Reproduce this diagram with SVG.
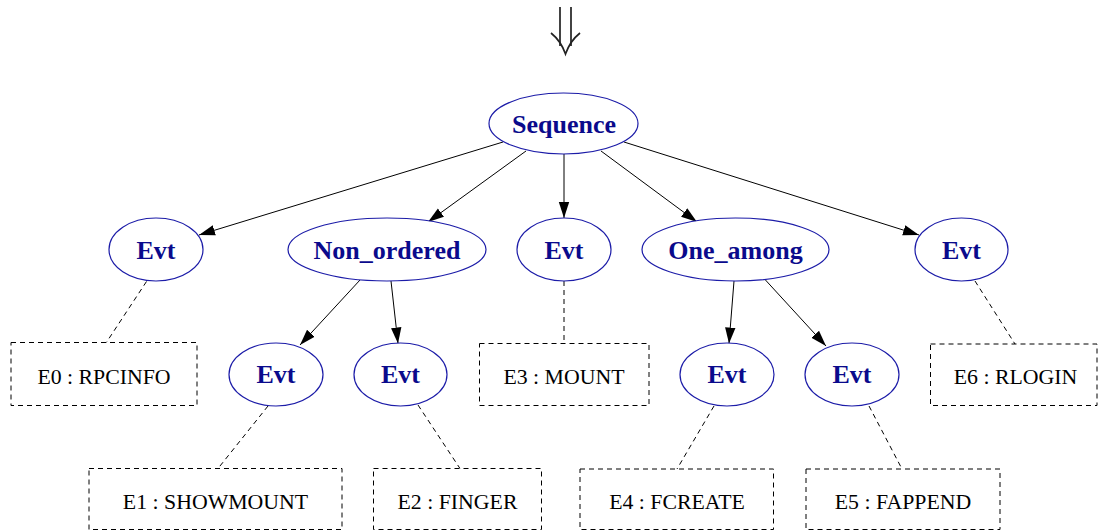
<svg xmlns="http://www.w3.org/2000/svg" width="1099" height="531" viewBox="0 0 1099 531">
<style>
.n ellipse{fill:#fff;stroke:#1c1ca8;stroke-width:1.2}
.n text{font-family:"Liberation Serif",serif;font-weight:bold;font-size:26px;fill:#0a0a8c;text-anchor:middle}
.b rect{fill:#fff;stroke:#000;stroke-width:1;stroke-dasharray:5,4}
.b text{font-family:"Liberation Serif",serif;font-size:21.8px;fill:#000;text-anchor:middle}
.e line{stroke:#000;stroke-width:1}
.e line.a{marker-end:url(#ah)}
.e line.d{stroke-dasharray:5,4}
</style>
<defs>
<marker id="ah" markerUnits="userSpaceOnUse" markerWidth="18" markerHeight="12" refX="16" refY="6" orient="auto">
<path d="M0,0.8 L16,6 L0,11.2 Z" fill="#000"/>
</marker>
</defs>
<g id="top-arrow" fill="none" stroke="#222" stroke-width="1.7">
<line x1="560" y1="7" x2="560" y2="46"/>
<line x1="571" y1="7" x2="571" y2="46"/>
<path d="M551,33 Q561,41 565.5,54 Q570,41 580,33"/>
</g>
<g id="connectors" class="e">
<line class="a" x1="503" y1="142" x2="199" y2="235"/>
<line class="a" x1="526" y1="151" x2="428" y2="222"/>
<line class="a" x1="564" y1="154" x2="564" y2="218"/>
<line class="a" x1="601" y1="151" x2="697" y2="222"/>
<line class="a" x1="624" y1="142" x2="919" y2="235"/>
<line class="a" x1="360" y1="280" x2="300" y2="345"/>
<line class="a" x1="391" y1="281" x2="398" y2="343.5"/>
<line class="a" x1="734" y1="281" x2="729" y2="343.5"/>
<line class="a" x1="765" y1="279.5" x2="826" y2="346"/>
<line class="d" x1="146.5" y1="281.5" x2="106" y2="343"/>
<line class="d" x1="564" y1="281" x2="564" y2="343"/>
<line class="d" x1="975" y1="281" x2="1015" y2="344"/>
<line class="d" x1="268" y1="406" x2="218" y2="468.5"/>
<line class="d" x1="418" y1="405" x2="460" y2="468.5"/>
<line class="d" x1="714" y1="406" x2="677" y2="469"/>
<line class="d" x1="869" y1="406" x2="902" y2="469"/>
</g>
<g id="seq" class="n"><ellipse cx="563.5" cy="123.5" rx="74.5" ry="30.5"/><text x="564" y="132.7">Sequence</text></g>
<g id="evt0" class="n"><ellipse cx="156" cy="249.5" rx="47" ry="31.5"/><text x="156" y="258.5">Evt</text></g>
<g id="nonord" class="n"><ellipse cx="387" cy="249.5" rx="99" ry="31.5"/><text x="387" y="258.5">Non_ordered</text></g>
<g id="evt3" class="n"><ellipse cx="564" cy="249.5" rx="47" ry="31.5"/><text x="564" y="258.5">Evt</text></g>
<g id="oneamong" class="n"><ellipse cx="735.5" cy="249.5" rx="93.5" ry="31.5"/><text x="735.5" y="258.5">One_among</text></g>
<g id="evt6" class="n"><ellipse cx="961.5" cy="249.5" rx="46.5" ry="31.5"/><text x="961.5" y="258.5">Evt</text></g>
<g id="evt1" class="n"><ellipse cx="276" cy="374.5" rx="47" ry="31.5"/><text x="276" y="383">Evt</text></g>
<g id="evt2" class="n"><ellipse cx="400.5" cy="374.5" rx="46.5" ry="31.5"/><text x="400.5" y="383">Evt</text></g>
<g id="evt4" class="n"><ellipse cx="727" cy="374.5" rx="47" ry="31.5"/><text x="727" y="383">Evt</text></g>
<g id="evt5" class="n"><ellipse cx="852" cy="374.5" rx="47" ry="31.5"/><text x="852" y="383">Evt</text></g>
<g id="e0" class="b"><rect x="11" y="342.5" width="186" height="63"/><text x="104" y="383.5">E0 : RPCINFO</text></g>
<g id="e3" class="b"><rect x="479.5" y="343.5" width="169.5" height="62"/><text x="564" y="383.5">E3 : MOUNT</text></g>
<g id="e6" class="b"><rect x="930.5" y="344" width="166.5" height="61.5"/><text x="1015.5" y="383.5">E6 : RLOGIN</text></g>
<g id="e1" class="b"><rect x="89" y="468.5" width="253" height="61"/><text x="215.5" y="508.5">E1 : SHOWMOUNT</text></g>
<g id="e2" class="b"><rect x="373.5" y="468.5" width="168" height="61"/><text x="457.5" y="508.5">E2 : FINGER</text></g>
<g id="e4" class="b"><rect x="580" y="469" width="193.5" height="60.5"/><text x="677" y="508.5">E4 : FCREATE</text></g>
<g id="e5" class="b"><rect x="806" y="469" width="194" height="60.5"/><text x="903" y="508.5">E5 : FAPPEND</text></g>
</svg>
